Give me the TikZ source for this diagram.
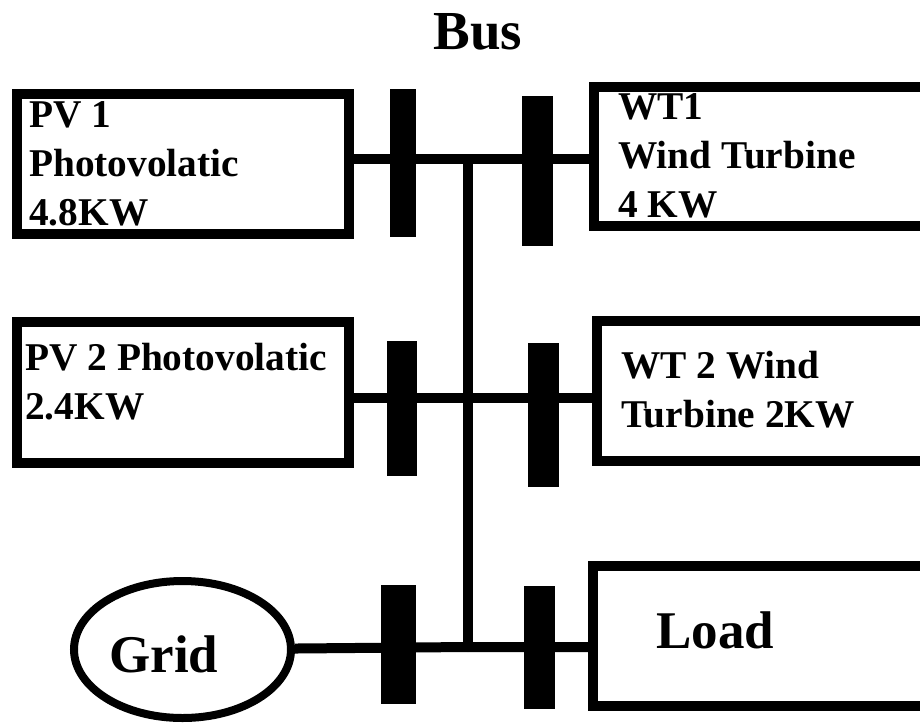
\documentclass[tikz,border=0pt]{standalone}
\usepackage{fontspec}
\setmainfont{Liberation Serif}
\usetikzlibrary{shapes.geometric}
\begin{document}
\begin{tikzpicture}[x=0.75pt,y=-0.75pt,
  box/.style={draw=black,line width=7.5pt,rectangle,inner sep=0pt},
  busbar/.style={fill=black,draw=none,rectangle,inner sep=0pt},
  wire/.style={draw=black,line width=7.5pt},
  boxtext/.style={inner sep=0pt,anchor=base west,align=left,font=\fontsize{29.5pt}{36.5pt}\selectfont\bfseries},
  bigtext/.style={inner sep=0pt,font=\fontsize{39.75pt}{45pt}\selectfont\bfseries}]
\useasboundingbox (0,0) rectangle (920,725);
% boxes
\node[box,minimum width=332*0.75pt,minimum height=140*0.75pt] (pv1) at (183,164) {};
\node[box,minimum width=332*0.75pt,minimum height=141*0.75pt] (pv2) at (183,392.5) {};
\node[box,minimum width=341*0.75pt,minimum height=139*0.75pt] (wt1) at (764.5,156.5) {};
\node[box,minimum width=338*0.75pt,minimum height=140*0.75pt] (wt2) at (766,391) {};
\node[box,minimum width=342*0.75pt,minimum height=140*0.75pt] (load) at (764,636) {};
\node[draw=black,line width=6pt,ellipse,inner sep=0pt,minimum width=217*0.75pt,minimum height=137*0.75pt] (grid) at (182.5,649.5) {};
% texts
\node[bigtext,anchor=base,font=\fontsize{41.25pt}{46pt}\selectfont\bfseries] (bustitle) at (478,49) {Bus};
\node[boxtext] (pv1t) at (29,225) {PV 1\\Photovolatic\\4.8KW};
\node[boxtext] (pv2t) at (25,419) {PV 2 Photovolatic\\2.4KW};
\node[boxtext] (wt1t) at (618,217) {WT1\\Wind Turbine\\4 KW};
\node[boxtext] (wt2t) at (621,427) {WT 2 Wind\\Turbine 2KW};
\node[bigtext,anchor=base west] (loadt) at (656,648) {Load};
\node[bigtext,anchor=base west] (gridt) at (109,672) {Grid};
% junctions
\coordinate (j1) at (468,159);
\coordinate (j2) at (468,398);
\coordinate (j3) at (468,647);
% wires
\draw[wire] (pv1.east |- j1) -- (j1) -- (wt1.west |- j1);
\draw[wire] (pv2.east |- j2) -- (j2) -- (wt2.west |- j2);
\draw[wire] (grid) -- (j3) -- (load.west |- j3);
\draw[wire,line cap=round] (j1) -- (j3);
% bus bars
\node[busbar,minimum width=26*0.75pt,minimum height=148*0.75pt] (bar1) at (403,163) {};
\node[busbar,minimum width=31*0.75pt,minimum height=150*0.75pt] (bar2) at (537.5,171) {};
\node[busbar,minimum width=30*0.75pt,minimum height=135*0.75pt] (bar3) at (402,408.5) {};
\node[busbar,minimum width=31*0.75pt,minimum height=144*0.75pt] (bar4) at (543.5,415) {};
\node[busbar,minimum width=35*0.75pt,minimum height=119*0.75pt] (bar5) at (398.5,644.5) {};
\node[busbar,minimum width=31*0.75pt,minimum height=123*0.75pt] (bar6) at (539.5,647.5) {};
\end{tikzpicture}
\end{document}
